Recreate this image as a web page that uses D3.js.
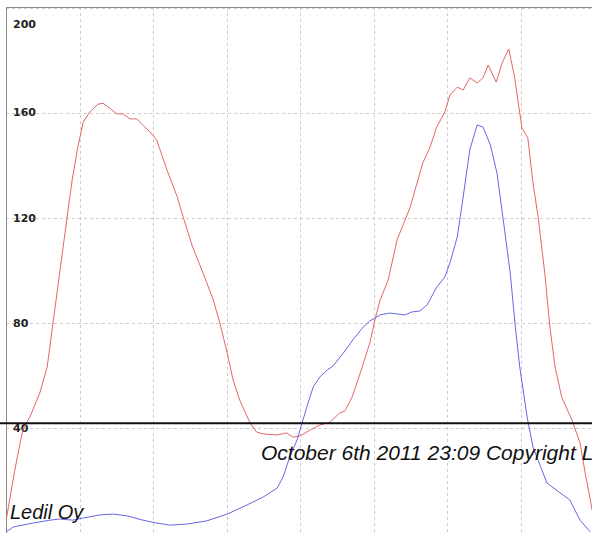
<!DOCTYPE html>
<html><head><meta charset="utf-8">
<script src="https://cdn.jsdelivr.net/npm/d3@7"></script>
<style>html,body{margin:0;padding:0;background:#fff;}svg{display:block;}</style>
</head><body>
<svg id="chart" width="592" height="533"></svg>
<script>
// x positions in grid units (grid line every 10 units), y in chart values
const redX = [0.1,1.2,2.0,2.3,3.3,4.6,5.6,6.4,7.3,8.3,9.0,9.7,10.5,11.4,12.5,13.2,14.1,15.1,15.9,16.9,17.8,18.6,19.6,20.5,21.9,23.3,24.1,25.4,26.8,28.2,29.1,30.1,30.9,31.8,33.2,34.1,35.0,36.9,38.2,39.0,40.0,41.4,42.7,44.1,45.4,46.1,47.1,48.2,49.5,50.2,50.9,52.0,53.2,55.0,56.7,57.7,58.6,59.7,60.4,61.4,62.2,63.1,64.1,64.9,65.6,66.7,67.5,68.4,69.2,69.9,70.2,71.0,71.7,72.4,73.3,74.0,74.7,75.6,77.0,78.1,78.8,79.5,80];
const redY = [6.1,24.0,35.4,39.2,44.5,53.3,63.2,79.9,99.0,119.9,134.3,145.8,156.4,160.2,163.2,163.6,161.7,159.5,159.5,157.6,157.6,155.3,152.6,149.6,138.2,127.9,120.3,108.8,99.0,88.7,79.9,68.5,58.2,50.6,41.9,38.4,37.7,37.3,38.1,36.5,36.9,39.2,41.1,42.2,45.7,46.4,51.8,60.9,72.3,81.1,88.7,96.3,111.5,124.1,140.8,146.9,154.5,160.2,166.7,169.7,168.6,173.2,171.3,173.2,178.1,171.6,178.9,184.2,173.5,159.8,154.1,150.3,133.2,120.3,99.0,78.4,63.2,51.8,43.0,34.3,22.8,12.6,4.9];
const blueX = [0,1.0,3.7,6.0,7.3,9.1,10.5,12.8,14.6,16.5,18.6,20.5,22.3,24.6,27.3,30.1,32.8,35.0,36.9,37.7,38.6,39.6,40.4,41.1,41.8,42.7,43.7,44.5,45.9,47.2,48.6,49.5,50.9,52.2,54.3,55.2,56.3,57.3,58.6,59.7,60.4,61.4,62.2,63.1,64.1,64.9,65.9,66.8,67.6,68.6,69.3,69.9,70.9,71.7,73.6,76.7,78.1,79.5];
const blueY = [0.4,2.3,3.8,4.9,5.3,4.9,5.7,6.9,7.2,6.5,4.9,3.8,3.0,3.4,4.6,7.2,10.7,13.7,17.1,21.3,28.9,35.4,43.0,49.5,55.6,59.4,62.0,63.6,68.5,73.5,78.4,80.7,83.0,83.7,83.0,84.1,84.5,86.8,93.6,97.4,102.8,112.7,127.9,145.8,155.3,154.5,147.7,137.0,120.3,99.0,78.4,63.2,44.1,32.7,19.0,12.6,4.9,0.4];
const yTicks = [40,80,120,160,200];
const xGrid = [10,20,30,40,50,60,70];
const thresholdValue = 41.8;
const footerText = "October 6th 2011 23:09 Copyright Ledil Oy";
const ownerText = "Ledil Oy";

const svg = d3.select("#chart");
const x = d3.scaleLinear().domain([0,80]).range([6,594]);
const y = d3.scaleLinear().domain([0,200]).range([533,7.5]);

const g = svg.append("g");
// grid
g.selectAll("line.hg").data(yTicks).join("line")
  .attr("x1",6).attr("x2",592).attr("y1",d=>Math.round(y(d))+0.5).attr("y2",d=>Math.round(y(d))+0.5)
  .attr("stroke","#cccccc").attr("stroke-dasharray","3,3");
g.selectAll("line.vg").data(xGrid).join("line")
  .attr("y1",7).attr("y2",533).attr("x1",d=>Math.round(x(d))+0.5).attr("x2",d=>Math.round(x(d))+0.5)
  .attr("stroke","#cccccc").attr("stroke-dasharray","3,3");
// frame
g.append("line").attr("x1",6.5).attr("x2",6.5).attr("y1",7).attr("y2",533).attr("stroke","#8a8a8a");
g.append("line").attr("x1",6).attr("x2",592).attr("y1",7.5).attr("y2",7.5).attr("stroke","#8a8a8a");
// labels
g.selectAll("text.yl").data(yTicks).join("text")
  .attr("x",13).attr("y",d=>Math.max(y(d),24)).attr("dy","0.35em")
  .attr("font-family","DejaVu Sans, Verdana, sans-serif").attr("font-size",11).attr("font-weight","bold")
  .attr("fill","#222").text(d=>d);

const line = d3.line().x(d=>x(d[0])).y(d=>y(d[1]));
g.append("path").datum(redX.map((v,i)=>[v,redY[i]])).attr("d",line)
  .attr("fill","none").attr("stroke","#e46666").attr("stroke-width",1);
g.append("path").datum(blueX.map((v,i)=>[v,blueY[i]])).attr("d",line)
  .attr("fill","none").attr("stroke","#6666e4").attr("stroke-width",1);

// threshold line
g.append("line").attr("x1",0).attr("x2",592).attr("y1",y(thresholdValue)).attr("y2",y(thresholdValue))
  .attr("stroke","#111").attr("stroke-width",2);

g.append("text").attr("x",261).attr("y",460).attr("font-family","Liberation Sans, Arial, sans-serif")
  .attr("font-style","italic").attr("font-size",21).attr("fill","#111").text(footerText);
g.append("text").attr("x",10).attr("y",519).attr("font-family","Liberation Sans, Arial, sans-serif")
  .attr("font-style","italic").attr("font-size",20).attr("fill","#111").text(ownerText);
</script>
</body></html>
